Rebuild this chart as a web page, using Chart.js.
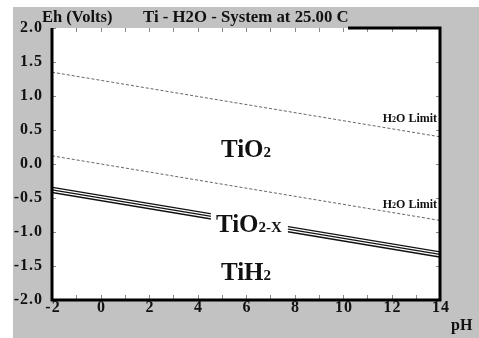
<!DOCTYPE html>
<html>
<head>
<meta charset="utf-8">
<script src="https://cdn.jsdelivr.net/npm/chart.js@4.4.0/dist/chart.umd.min.js"></script>
<style>
  html, body { margin: 0; padding: 0; background: #fff; }
  canvas { display: block; }
</style>
</head>
<body>
<canvas id="pourbaix" width="479" height="338"></canvas>
<script>
// end points of each boundary, read at pH -2 and pH 14
const phEnds = [-2, 14];
const o2Limit = [1.35, 0.40];
const h2Limit = [0.12, -0.83];
const hydrideLine = [-0.38, -1.33];

const xTicks = [-2, 0, 2, 4, 6, 8, 10, 12, 14];
const yTicks = [2.0, 1.5, 1.0, 0.5, 0.0, -0.5, -1.0, -1.5, -2.0];
const yTickLabels = ["2.0", "1.5", "1.0", "0.5", "0.0", "-0.5", "-1.0", "-1.5", "-2.0"];

const serif = '"Liberation Serif", "DejaVu Serif", serif';

function pts(vals) {
  return phEnds.map((x, i) => ({ x: x, y: vals[i] }));
}

// draw text made of runs like [["TiO", 25], ["2", 14]] on one baseline
function drawRuns(ctx, x, y, runs, align) {
  let total = 0;
  runs.forEach((r) => {
    ctx.font = "bold " + r[1] + "px " + serif;
    total += ctx.measureText(r[0]).width;
  });
  let cx = x;
  if (align === "center") cx = x - total / 2;
  if (align === "right") cx = x - total;
  ctx.textAlign = "left";
  ctx.textBaseline = "alphabetic";
  runs.forEach((r) => {
    ctx.font = "bold " + r[1] + "px " + serif;
    ctx.fillText(r[0], cx, y);
    cx += ctx.measureText(r[0]).width;
  });
}

const framePlugin = {
  id: "frame",
  beforeDraw(chart) {
    const ctx = chart.ctx;
    const a = chart.chartArea;
    ctx.save();
    ctx.fillStyle = "#ffffff";
    ctx.fillRect(0, 0, chart.width, chart.height);
    ctx.fillStyle = "#c2c2c2";
    ctx.fillRect(13, 7, chart.width - 13, chart.height - 7);
    ctx.fillStyle = "#ffffff";
    ctx.fillRect(a.left, a.top, a.right - a.left, a.bottom - a.top);
    ctx.restore();
  },
  afterDatasetsDraw(chart) {
    const ctx = chart.ctx;
    const a = chart.chartArea;
    const xs = chart.scales.x;
    const ys = chart.scales.y;
    ctx.save();

    // inner ticks
    ctx.strokeStyle = "#888";
    ctx.lineWidth = 1;
    ctx.beginPath();
    for (let p = -1; p < 14; p++) {
      const px = Math.round(xs.getPixelForValue(p)) + 0.5;
      ctx.moveTo(px, a.top);
      ctx.lineTo(px, a.top + 4);
      ctx.moveTo(px, a.bottom);
      ctx.lineTo(px, a.bottom - 5);
    }
    yTicks.forEach((v) => {
      const py = Math.round(ys.getPixelForValue(v)) + 0.5;
      ctx.moveTo(a.left, py);
      ctx.lineTo(a.left + 4, py);
      ctx.moveTo(a.right, py);
      ctx.lineTo(a.right - 4, py);
    });
    ctx.stroke();

    // frame, the top edge is hidden behind the title
    ctx.strokeStyle = "#000";
    ctx.lineWidth = 3;
    ctx.beginPath();
    ctx.moveTo(348, a.top);
    ctx.lineTo(a.right, a.top);
    ctx.lineTo(a.right, a.bottom);
    ctx.lineTo(a.left, a.bottom);
    ctx.lineTo(a.left, a.top);
    ctx.stroke();

    ctx.fillStyle = "#111";
    ctx.letterSpacing = "1px";
    ctx.font = "bold 16px " + serif;
    ctx.textAlign = "right";
    ctx.textBaseline = "middle";
    yTicks.forEach((v, i) => {
      ctx.fillText(yTickLabels[i], 43, ys.getPixelForValue(v));
    });
    ctx.textAlign = "center";
    xTicks.forEach((v) => {
      ctx.fillText(String(v), xs.getPixelForValue(v) + 1, 308);
    });
    ctx.letterSpacing = "0px";

    // titles
    drawRuns(ctx, 42, 22, [["Eh (Volts)", 16.5]], "left");
    drawRuns(ctx, 143, 22, [["Ti - H2O - System at 25.00 C", 16.8]], "left");
    drawRuns(ctx, 451, 330, [["pH", 16]], "left");

    // region labels
    drawRuns(ctx, xs.getPixelForValue(6.0), ys.getPixelForValue(0.10),
      [["TiO", 25], ["2", 15]], "center");
    drawRuns(ctx, xs.getPixelForValue(6.0), ys.getPixelForValue(-1.71),
      [["TiH", 25], ["2", 15]], "center");

    // TiO2-X sits on the hydride line, clear a gap first
    const lx = xs.getPixelForValue(6.12);
    const ly = ys.getPixelForValue(-1.0);
    ctx.fillStyle = "#ffffff";
    ctx.fillRect(lx - 38, ly - 19, 77, 25);
    ctx.fillStyle = "#111";
    drawRuns(ctx, lx, ly, [["TiO", 25], ["2-X", 15]], "center");

    drawRuns(ctx, xs.getPixelForValue(13.88), ys.getPixelForValue(0.62),
      [["H", 12], ["2", 8], ["O Limit", 12]], "right");
    drawRuns(ctx, xs.getPixelForValue(13.88), ys.getPixelForValue(-0.65),
      [["H", 12], ["2", 8], ["O Limit", 12]], "right");

    ctx.restore();
  }
};

new Chart(document.getElementById("pourbaix"), {
  type: "line",
  data: {
    datasets: [
      { data: pts(o2Limit), borderColor: "#666", borderWidth: 1, borderDash: [3, 2], order: 1 },
      { data: pts(h2Limit), borderColor: "#666", borderWidth: 1, borderDash: [3, 2], order: 1 },
      { data: pts(hydrideLine), borderColor: "#111", borderWidth: 6.5, order: 4 },
      { data: pts(hydrideLine), borderColor: "#ffffff", borderWidth: 3.6, order: 3 },
      { data: pts(hydrideLine), borderColor: "#111", borderWidth: 1.3, order: 2 }
    ]
  },
  options: {
    responsive: false,
    animation: false,
    devicePixelRatio: 1,
    layout: { padding: { left: 52, top: 28, right: 39, bottom: 38 } },
    elements: { point: { radius: 0 }, line: { tension: 0, borderCapStyle: "butt" } },
    plugins: { legend: { display: false }, tooltip: { enabled: false } },
    scales: {
      x: { type: "linear", min: -2, max: 14, display: false },
      y: { type: "linear", min: -2, max: 2, display: false }
    }
  },
  plugins: [framePlugin]
});
</script>
</body>
</html>
